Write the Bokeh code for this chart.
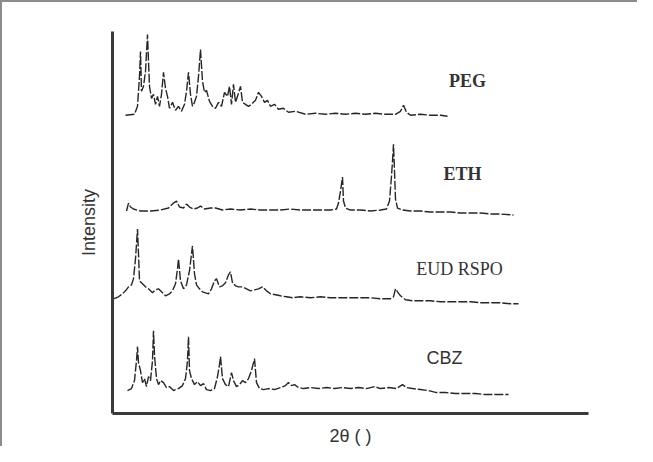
from bokeh.plotting import figure
from bokeh.models import Range1d
from bokeh.core.properties import value
from bokeh.embed import file_html
from bokeh.resources import INLINE

# ---- data (2theta in degrees, intensity above each pattern's own baseline) ----
peg_x = [3.3, 4.2, 4.5, 4.7, 4.8, 4.9, 5.1, 5.3, 5.5, 5.6, 5.7, 5.9, 6.1, 6.3, 6.5, 6.7, 6.9, 7.1, 7.3, 7.5,
         7.7, 8.0, 8.3, 8.6, 8.9, 9.2, 9.4, 9.6, 9.8, 10.0, 10.2, 10.4, 10.6, 10.8, 11.0, 11.2, 11.4, 11.7,
         12.0, 12.3, 12.6, 12.9, 13.2, 13.5, 13.7, 13.9, 14.1, 14.3, 14.5, 14.8, 15.0, 15.3, 15.6, 15.9,
         16.3, 16.6, 16.9, 17.2, 17.5, 17.8, 18.2, 18.6, 19.1, 19.6, 20.3, 21.3, 22.3, 23.3, 24.3, 25.3,
         26.3, 27.3, 28.3, 29.3, 30.3, 30.8, 31.1, 31.4, 31.8, 32.8, 33.8, 34.8, 35.5]
peg_y = [1, 2, 10, 40, 65, 25, 30, 45, 82, 55, 30, 18, 22, 12, 20, 10, 22, 44, 28, 20,
         8, 14, 6, 10, 5, 12, 25, 44, 22, 10, 14, 20, 40, 67, 35, 24, 26, 15,
         10, 8, 14, 10, 24, 20, 30, 12, 32, 14, 20, 30, 14, 12, 10, 12,
         16, 24, 20, 14, 16, 10, 12, 7, 8, 4, 5, 2, 3, 2, 3, 2,
         3, 2, 3, 2, 2, 5, 11, 4, 1, 2, 1, 1, 0]

eth_x = [3.4, 3.6, 3.8, 4.1, 4.8, 5.8, 6.8, 7.6, 8.1, 8.4, 8.7, 9.1, 9.4, 9.7, 10.1, 10.5, 10.8, 11.2,
         11.8, 12.3, 13.0, 13.8, 14.8, 15.8, 16.8, 17.8, 18.8, 19.8, 20.8, 21.8, 22.8, 23.8, 24.4, 24.6,
         24.8, 25.0, 25.1, 25.3, 25.8, 26.8, 27.8, 28.8, 29.4, 29.7, 29.9, 30.0, 30.1, 30.2, 30.3, 30.5,
         31.0, 31.8, 32.8, 33.8, 34.8, 35.8, 36.8, 37.8, 38.8, 39.8, 40.8, 42.1]
eth_y = [0, 8, 4, 2, 0, 0, 1, 3, 8, 10, 4, 3, 7, 4, 2, 3, 5, 2,
         3, 3, 1, 2, 1, 2, 1, 1, 1, 2, 1, 1, 1, 1, 2, 8,
         20, 34, 10, 3, 1, 1, 0, 1, 2, 10, 35, 50, 67, 40, 12, 3,
         1, 0, 0, -1, -1, -1, -2, -2, -2, -3, -3, -4]

eud_x = [2.1, 2.6, 3.0, 3.3, 3.6, 3.9, 4.1, 4.3, 4.4, 4.5, 4.6, 4.7, 5.0, 5.3, 5.6, 6.0, 6.3, 6.6, 7.0,
         7.3, 7.7, 8.0, 8.3, 8.5, 8.6, 8.8, 9.1, 9.4, 9.7, 9.9, 10.0, 10.2, 10.4, 10.7, 11.0, 11.3, 11.6,
         11.9, 12.2, 12.4, 12.7, 13.0, 13.3, 13.6, 13.8, 14.0, 14.3, 14.6, 15.0, 15.4, 15.8, 16.2, 16.6,
         17.0, 17.4, 17.8, 18.3, 18.8, 19.4, 20.0, 20.8, 21.8, 22.8, 23.8, 24.8, 25.8, 26.8, 27.8, 28.8,
         29.8, 30.1, 30.3, 30.5, 30.8, 31.3, 32.0, 32.8, 33.8, 34.8, 35.8, 36.8, 37.8, 38.8, 39.8, 40.8,
         41.8, 42.6]
eud_y = [0, 2, 5, 8, 12, 14, 20, 40, 55, 70, 45, 18, 15, 12, 10, 6, 9, 10, 6,
         3, 5, 8, 15, 30, 40, 18, 10, 14, 28, 45, 53, 25, 14, 10, 7, 6, 5,
         10, 18, 20, 12, 13, 16, 24, 27, 16, 13, 12, 12, 10, 8, 9, 10,
         12, 8, 5, 4, 3, 2, 1, 2, 1, 2, 1, 1, 1, 1, 1, 0,
         0, 2, 10, 7, 3, -1, -2, -2, -2, -3, -3, -3, -3, -4, -4, -4,
         -5, -5]

cbz_x = [3.5, 3.9, 4.2, 4.4, 4.5, 4.6, 4.8, 5.0, 5.2, 5.4, 5.6, 5.8, 6.0, 6.1, 6.2, 6.4, 6.6, 6.8, 7.1,
         7.4, 7.7, 8.1, 8.6, 9.0, 9.3, 9.5, 9.6, 9.7, 9.9, 10.2, 10.5, 10.8, 11.1, 11.4, 11.8, 12.2, 12.5,
         12.7, 12.8, 13.0, 13.3, 13.6, 13.9, 14.1, 14.4, 14.7, 15.0, 15.3, 15.6, 15.9, 16.1, 16.2, 16.4,
         16.7, 17.1, 17.6, 18.2, 18.8, 19.3, 19.6, 19.9, 20.2, 20.6, 21.1, 21.8, 22.6, 23.4, 24.2, 25.0,
         25.8, 26.6, 27.4, 28.2, 28.8, 29.6, 30.4, 31.0, 31.4, 32.0, 32.8, 33.6, 34.4, 35.3, 36.3, 37.3,
         38.3, 39.3, 40.3, 41.6]
cbz_y = [0, 2, 10, 30, 44, 28, 20, 8, 12, 4, 14, 10, 30, 60, 35, 12, 6, 10, 8,
         3, 4, 0, 2, 5, 12, 30, 54, 20, 12, 6, 9, 5, 7, 1, 0, 2, 14,
         26, 34, 12, 6, 4, 18, 10, 4, 6, 10, 8, 12, 20, 28, 32, 8,
         2, 1, 2, 1, 3, 5, 8, 5, 6, 3, 2, 3, 2, 3, 2, 3,
         2, 3, 2, 4, 2, 3, 2, 6, 3, 2, 1, 0, -2, -2, -3, -3,
         -3, -4, -4, -4]

names = ["PEG", "ETH", "EUD RSPO", "CBZ"]
offsets = [298, 203, 115, 23]
label_x = [37.5, 37.0, 36.7, 35.2]
label_y = [333, 240, 145, 56]

series_x = [peg_x, eth_x, eud_x, cbz_x]
series_y = [peg_y, eth_y, eud_y, cbz_y]

# ---- figure ----
p = figure(width=637, height=446, output_backend="svg", toolbar_location=None,
           x_range=Range1d(2, 49.6), y_range=Range1d(0, 383),
           min_border_left=110, min_border_right=51, min_border_top=29, min_border_bottom=34)
p.styles = {"border-top": "2px solid #8c8c8c", "border-left": "2px solid #8c8c8c"}
p.outline_line_color = None
p.grid.visible = False
p.background_fill_color = "white"
p.border_fill_color = "white"

for ax in (p.xaxis[0], p.yaxis[0]):
    ax.ticker = []
    ax.major_tick_out = 0
    ax.major_tick_in = 0
    ax.minor_tick_out = 0
    ax.minor_tick_in = 0
    ax.major_label_standoff = 0
    ax.axis_line_width = 3
    ax.axis_line_color = "#3a3a3a"
    ax.axis_label_text_font = "Liberation Sans"
    ax.axis_label_text_font_style = "normal"
    ax.axis_label_text_font_size = "18px"
    ax.axis_label_text_color = "#333333"

p.xaxis.axis_label = "2θ ( )"
p.xaxis.axis_label_standoff = 12
p.yaxis.axis_label = "Intensity"
p.yaxis.axis_label_standoff = 14

for xs, ys, off in zip(series_x, series_y, offsets):
    p.line(xs, [off + v for v in ys], line_color="#262626", line_width=1.4, line_dash="9 2")

fonts = ["Liberation Serif", "Liberation Serif", "Liberation Serif", "Liberation Sans"]
styles = ["bold", "bold", "normal", "normal"]
for nm, lx, ly, f, s in zip(names, label_x, label_y, fonts, styles):
    p.text(x=[lx], y=[ly], text=[nm], text_font=value(f), text_font_style=s,
           text_font_size="18px", text_color="#333333", text_align="center",
           text_baseline="middle")

open("out.html", "w").write(file_html(p, INLINE))
